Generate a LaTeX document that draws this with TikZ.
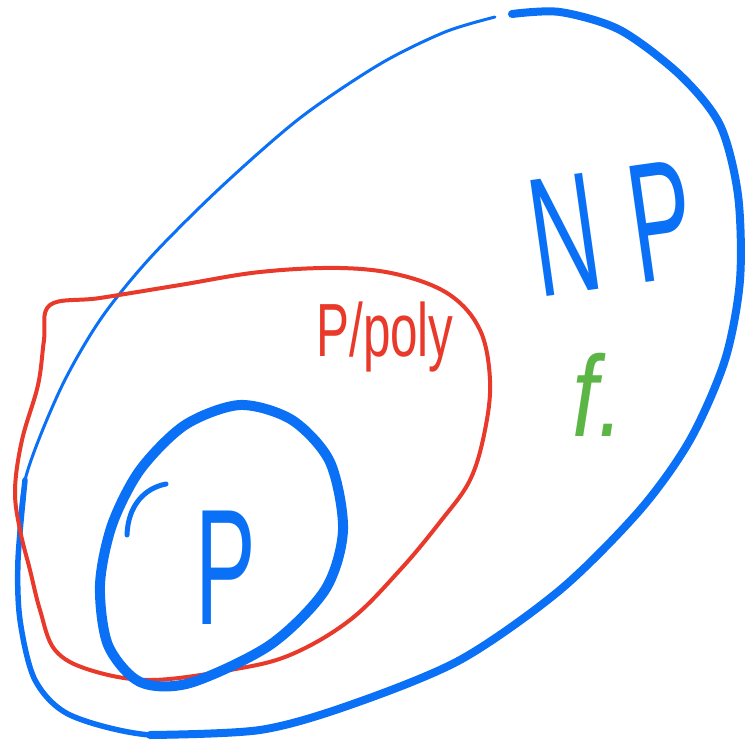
\documentclass[tikz,border=0pt]{standalone}
\usepackage{fontspec}
\setmainfont{Liberation Sans}
\usepackage{graphicx}
\usetikzlibrary{positioning}
\definecolor{npblue}{RGB}{10,112,245}
\definecolor{pprd}{RGB}{232,57,42}
\definecolor{fgrn}{RGB}{91,182,70}

\begin{document}
\begin{tikzpicture}[x=1pt,y=-1pt,line cap=round,line join=round,
  npline/.style={npblue},
  ppline/.style={pprd,line width=4pt},
  pline/.style={npblue,line width=10pt},
  every node/.style={inner sep=0pt}]
\useasboundingbox (0,0) rectangle (746,741);
% big set NP
\draw[npline,line width=3pt] plot[smooth] coordinates {(512,14) (560,12) (620,30) (680,75) (720,125) (738,195) (740,280) (725,360) (690,440) (640,510) (560,590) (460,660) (350,705) (260,730) (150,735) (70,715) (35,680) (20,620) (18,560) (25,480) (60,390) (100,320) (150,258) (220,188) (300,118) (380,64) (445,32) (495,17)};
\draw[npline,line width=8pt] plot[smooth] coordinates {(512,14) (560,12) (620,30) (680,75) (720,125) (738,195) (740,280) (725,360) (690,440) (640,510) (560,590) (460,660) (350,705) (260,730) (150,735)};
\draw[npline,line width=5.5pt] plot[smooth] coordinates {(260,730) (150,735) (70,715) (35,680) (20,620) (18,560) (25,480)};
% P/poly
\draw[ppline] plot[smooth cycle,tension=0.6] coordinates {(50,305) (100,298) (180,285) (260,272) (340,268) (400,275) (450,295) (480,330) (490,380) (485,430) (470,480) (440,522) (400,570) (350,620) (290,655) (230,670) (150,680) (90,670) (55,650) (40,610) (30,570) (20,530) (15,490) (22,440) (38,385) (44,340)};
% P
\draw[pline] plot[smooth cycle] coordinates {(240,405) (292,420) (330,462) (343,530) (325,590) (270,645) (190,683) (140,682) (108,645) (100,585) (112,525) (140,470) (185,425)};
\draw[npblue,line width=5pt] (166,484) .. controls (145,488) and (128,505) .. (127,535);
\node[npblue,rotate=8] (np) at (612,228) {\fontsize{170}{170}\selectfont\scalebox{0.55}[1]{\addfontfeature{FakeBold=-0.6}N\hspace{60pt}P}};
\node[pprd] (ppoly) at (385,337) {\fontsize{52}{52}\selectfont\scalebox{0.95}[1.45]{P/poly}};
\node[npblue] (p) at (226,568) {\fontsize{165}{165}\selectfont\scalebox{0.55}[1]{P}};
\node[fgrn] (f) at (598,395) {\fontsize{115}{115}\selectfont\scalebox{0.8}[1]{\textit{f.}}};
\end{tikzpicture}
\end{document}
